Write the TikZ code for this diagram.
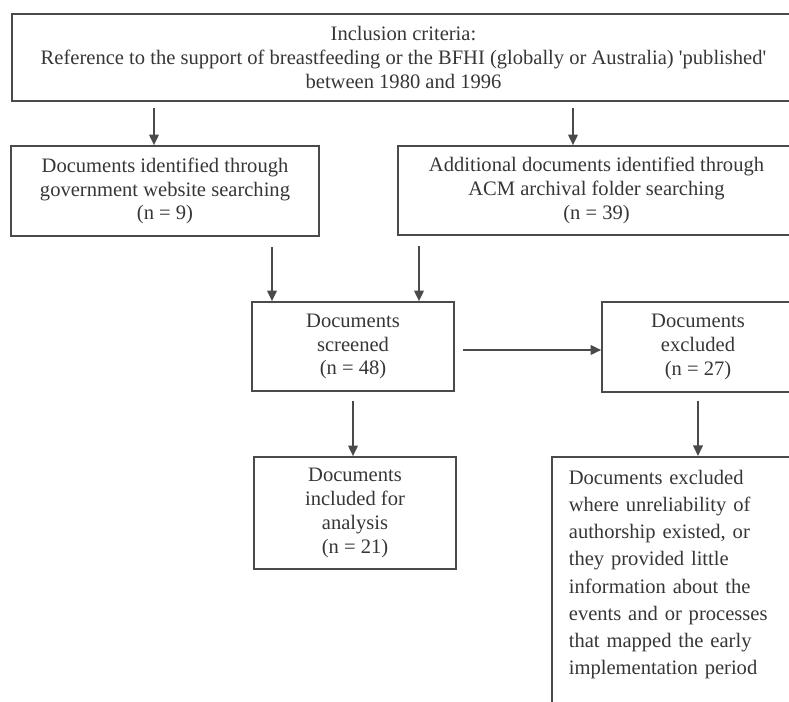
\documentclass[tikz,border=0pt]{standalone}
\usepackage{fontspec}
\setmainfont{Liberation Serif}
\usetikzlibrary{arrows.meta}
\definecolor{linegray}{HTML}{4A4A4A}
\definecolor{inkgray}{HTML}{363636}

\begin{document}
\begin{tikzpicture}[
    x=0.02cm, y=-0.02cm,
    font=\fontsize{11.7}{13.6}\selectfont,
    box/.style={draw=linegray, line width=1pt, text=inkgray, align=center, inner sep=0pt},
    arrow/.style={draw=linegray, line width=0.9pt, -{Triangle[length=6pt, width=5.5pt]}}
]

    \useasboundingbox (0,0) rectangle (789,702);
    \clip (0,0) rectangle (789,702);

    % Coordinates
    \coordinate (col_gov) at (154,0);
    \coordinate (col_acm) at (573,0);
    \coordinate (col_left) at (272,0);
    \coordinate (col_right) at (419,0);
    \coordinate (row_mid) at (0,350);

    % Boxes
    \node[box, minimum width=15.66cm, minimum height=1.74cm] (criteria) at (403.5,57.5)
        {Inclusion criteria:\\
         Reference to the support of breastfeeding or the BFHI (globally or Australia) \textquotesingle published\textquotesingle\\
         between 1980 and 1996};
    \node[box, minimum width=6.16cm, minimum height=1.8cm] (gov) at (165,191)
        {Documents identified through\\government website searching\\(n = 9)};
    \node[box, minimum width=7.94cm, minimum height=1.78cm] (acm) at (596.5,190.5)
        {Additional documents identified through\\ACM archival folder searching\\(n = 39)};
    \node[box, minimum width=4.04cm, minimum height=1.78cm] (screened) at (353,346.5)
        {Documents\\screened\\(n = 48)};
    \node[box, minimum width=3.84cm, minimum height=1.8cm] (excluded) at (698,347)
        {Documents\\excluded\\(n = 27)};
    \node[box, minimum width=4.04cm, minimum height=2.24cm] (included) at (355,513)
        {Documents\\included for\\analysis\\(n = 21)};
    \node[box, anchor=north west, align=left, text width=4.3cm, inner xsep=0.34cm, inner ysep=0.26cm,
          text depth=5cm, font=\fontsize{11.7}{15.5}\selectfont] (reasons) at (551,456)
        {Documents excluded\\
         where unreliability of\\
         authorship existed, or\\
         they provided little\\
         information about the\\
         events and or processes\\
         that mapped the early\\
         implementation period};

    % Arrows
    \draw[arrow, shorten <=0.12cm] (criteria.south -| col_gov) -- (gov.north -| col_gov);
    \draw[arrow, shorten <=0.12cm] (criteria.south -| col_acm) -- (acm.north -| col_acm);
    \draw[arrow, shorten <=0.2cm] (gov.south -| col_left) -- (screened.north -| col_left);
    \draw[arrow, shorten <=0.2cm] (acm.south -| col_right) -- (screened.north -| col_right);
    \draw[arrow, shorten <=0.16cm] (screened.east |- row_mid) -- (excluded.west |- row_mid);
    \draw[arrow, shorten <=0.18cm] (screened.south) -- (screened.south |- included.north);
    \draw[arrow, shorten <=0.16cm] (excluded.south) -- (excluded.south |- reasons.north);

\end{tikzpicture}
\end{document}
